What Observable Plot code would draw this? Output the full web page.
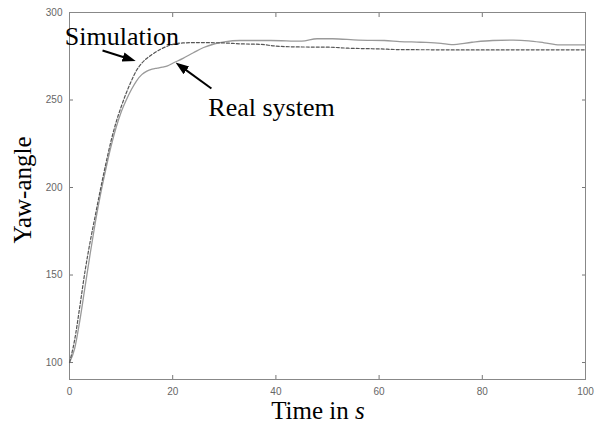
<!DOCTYPE html>
<html>
<head>
<meta charset="utf-8">
<script src="https://cdn.jsdelivr.net/npm/d3@7"></script>
<script src="https://cdn.jsdelivr.net/npm/@observablehq/plot@0.6"></script>
<style>
  body { margin: 0; background: #fff; }
  #chart { position: relative; width: 602px; height: 426px; }
</style>
</head>
<body>
<div id="chart"></div>
<script>
// Simulation (dashed)
const simT = [0, 1, 2, 3, 4, 5, 6, 7, 8, 9, 10, 11, 12, 13, 14, 16, 18, 20, 22, 25, 30, 33, 37, 40, 45, 50, 54, 60, 64, 70, 80, 90, 100];
const simV = [100, 113, 132, 152, 169, 184, 199, 213, 226, 237, 246, 254, 261, 267, 271, 276, 279.5, 281.8, 282.6, 282.8, 282.6, 282.1, 281.8, 280.8, 280.3, 280.2, 279.6, 279.2, 278.8, 278.7, 278.6, 278.7, 278.7];
// Real system (solid)
const realT = [0, 1, 2, 3, 4, 5, 6, 7, 8, 9, 10, 11, 12, 13, 14, 15, 16, 17, 18, 19, 20, 22, 24, 26, 28, 30, 33, 39, 45, 48, 51, 56, 61, 64, 68, 72, 74, 78, 82, 86, 89, 92, 95, 100];
const realV = [100, 108, 124, 143, 162, 180, 196, 210, 223, 234, 243, 250, 256, 261, 264.5, 266.5, 267.6, 268.2, 268.8, 269.5, 271, 273.8, 277, 280, 282, 283.2, 284, 284, 283.6, 285, 285, 284.2, 284, 283.4, 283, 282.4, 281.6, 283, 284, 284.2, 283.8, 282.7, 281.5, 281.5];

const xTicks = [0, 20, 40, 60, 80, 100];
const yTicks = [100, 150, 200, 250, 300];

// annotations
const labels = [
  {text: "Simulation", t: -0.9, v: 281.3},
  {text: "Real system", t: 26.9, v: 241.0}
];
const arrows = [
  {t1: 6.4, v1: 278.3, t2: 11.6, v2: 273.4},
  {t1: 27.5, v1: 256.6, t2: 21.6, v2: 269.2}
];

const sim = simT.map((t, i) => ({t, v: simV[i]}));
const real = realT.map((t, i) => ({t, v: realV[i]}));

const plot = Plot.plot({
  width: 602,
  height: 426,
  marginLeft: 69,
  marginRight: 17,
  marginTop: 12,
  marginBottom: 47,
  style: {background: "#fff", fontFamily: "Liberation Sans, Arial, sans-serif"},
  x: {domain: [0, 100]},
  y: {domain: [90.3, 300]},
  marks: [
    Plot.axisX({ticks: xTicks, tickSize: -4, tickPadding: 12, stroke: "#777", color: "#666", fontSize: 10, label: null}),
    Plot.axisX({ticks: xTicks, anchor: "top", tickSize: -4, tickFormat: () => "", stroke: "#777", label: null}),
    Plot.axisY({ticks: yTicks, tickSize: -4, tickPadding: 11, stroke: "#777", color: "#666", fontSize: 10, label: null}),
    Plot.axisY({ticks: yTicks, anchor: "right", tickSize: -4, tickFormat: () => "", stroke: "#777", label: null}),
    Plot.frame({stroke: "#888", strokeWidth: 1}),
    Plot.line(real, {x: "t", y: "v", stroke: "#9a9a9a", strokeWidth: 1.3, curve: "monotone-x"}),
    Plot.line(sim, {x: "t", y: "v", stroke: "#555", strokeWidth: 1.2, strokeDasharray: "3,2", curve: "monotone-x"}),
    Plot.link(arrows, {x1: "t1", y1: "v1", x2: "t2", y2: "v2", stroke: "#000", strokeWidth: 2, markerEnd: "arrow"}),
    Plot.text(labels, {x: "t", y: "v", text: "text", textAnchor: "start", lineAnchor: "bottom", fontFamily: "Liberation Serif, Times New Roman, serif", fontSize: 26, fill: "#000", clip: false})
  ]
});

const svg = d3.select(plot);
// filled arrowheads
svg.selectAll("marker path").attr("d", "M-5,-3.6L5,0L-5,3.6Z").attr("fill", "#000").attr("stroke", "none");

// axis titles
svg.append("text")
  .attr("transform", "translate(31,190) rotate(-90)")
  .attr("text-anchor", "middle")
  .attr("font-family", "Liberation Serif, Times New Roman, serif")
  .attr("font-size", 25)
  .attr("fill", "#000")
  .text("Yaw-angle");

const xl = svg.append("text")
  .attr("x", 318)
  .attr("y", 419)
  .attr("text-anchor", "middle")
  .attr("font-family", "Liberation Serif, Times New Roman, serif")
  .attr("font-size", 25)
  .attr("fill", "#000");
xl.append("tspan").text("Time in ");
xl.append("tspan").attr("font-style", "italic").text("s");

document.getElementById("chart").appendChild(plot);
</script>
</body>
</html>
